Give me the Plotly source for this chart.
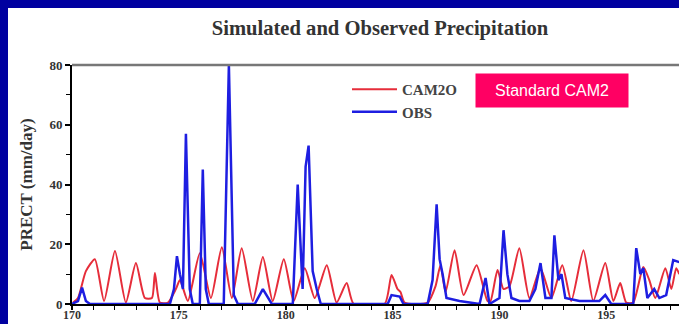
import plotly.graph_objects as go

# ---- data (day of year, mm/day) ----
cam_x = [170.05, 170.28, 170.65, 171.07, 171.50, 172.01, 172.52, 172.99, 173.41, 173.74,
         173.88, 174.11, 174.49, 174.86, 175.05, 175.42, 175.98, 176.50, 177.01, 177.48,
         177.94, 178.46, 178.93, 179.39, 179.91, 180.37, 180.89, 181.36, 181.92, 182.38,
         182.85, 183.18, 184.63, 184.95, 185.23, 185.37, 185.56, 186.64, 187.01, 187.24,
         187.48, 187.90, 188.32, 188.93, 189.44, 189.58, 189.91, 190.19, 190.47, 190.93,
         191.40, 191.92, 192.43, 192.94, 193.36, 193.93, 194.39, 194.95, 195.33, 195.65,
         195.93, 196.26, 196.73, 197.01, 197.29, 197.76, 198.04, 198.27, 198.41]
cam_y = [0.5, 2, 11, 15, 1, 17.7, 0.5, 13.7, 2, 2,
         10.4, 0.5, 0.5, 5, 8, 1, 17, 2, 19, 2,
         18.7, 1, 15.7, 1, 15, 1, 12, 2, 13, 0.5,
         7, 0, 0, 9.7, 5, 4, 0.5, 0.5, 6, 13,
         4, 18, 3, 13, 1, 1, 11.4, 5, 6, 18.7,
         2, 12, 2, 13, 1, 18, 1, 13.7, 1, 7,
         0.5, 0.5, 12.4, 8, 2, 12, 5, 12, 10]

obs_x = [170.00, 170.28, 170.47, 170.65, 170.84, 174.58, 174.77, 174.91, 175.05, 175.19,
         175.33, 175.51, 175.65, 175.98, 176.12, 176.26, 176.40, 177.10, 177.34, 177.57,
         177.76, 178.55, 178.93, 179.16, 179.35, 180.33, 180.56, 180.79, 180.93, 181.07,
         181.26, 181.45, 181.64, 184.77, 184.95, 185.33, 185.51, 186.64, 186.87, 187.06,
         187.20, 187.34, 187.52, 188.13, 189.07, 189.35, 189.53, 190.00, 190.19, 190.37,
         190.56, 190.93, 191.40, 191.68, 191.92, 192.15, 192.43, 192.57, 192.76, 192.90,
         193.08, 193.74, 194.67, 194.95, 195.23, 196.26, 196.40, 196.59, 196.73, 196.92,
         197.24, 197.48, 197.80, 198.13, 198.41]
obs_y = [0, 1, 5.5, 1, 0, 0, 5, 16, 10, 5,
         57, 5, 0, 0, 45, 5, 0, 0, 80, 3,
         0, 0, 5, 2, 0, 0, 40, 5, 46, 53,
         11, 5, 0, 0, 3, 2.5, 0, 0, 8, 33.4,
         15, 10, 2, 1, 0, 8.7, 0, 2, 24.7, 10,
         2, 1, 1, 5, 13.7, 2, 2, 23, 8, 10,
         2, 1, 1, 3, 0, 0, 18.7, 10, 12, 2,
         5, 2, 3, 14.7, 14]

series_names = ["CAM2O", "OBS"]
y_ticks = [0, 20, 40, 60, 80]
x_ticks = [170, 175, 180, 185, 190, 195]

W, H = 679, 324
L, R, T, B = 72, 0, 65, 20
pw, ph = W - L - R, H - T - B

def px(p):
    return (p - L) / pw

def py(p):
    return (H - B - p) / ph

serif = "Liberation Serif, Times New Roman, serif"

fig = go.Figure()
fig.add_trace(go.Scatter(x=cam_x, y=cam_y, mode="lines", name=series_names[0],
                         line=dict(color="rgb(230,45,58)", width=2, shape="spline", smoothing=0.6)))
fig.add_trace(go.Scatter(x=obs_x, y=obs_y, mode="lines", name=series_names[1],
                         line=dict(color="rgb(30,30,225)", width=2.5)))

fig.update_layout(
    width=W, height=H,
    margin=dict(l=L, r=R, t=T, b=B, pad=0, autoexpand=False),
    paper_bgcolor="white", plot_bgcolor="white",
    title=dict(text="<b>Simulated and Observed Precipitation</b>",
               font=dict(family=serif, size=20.6, color="#333"),
               xref="container", yref="container", x=380 / W, xanchor="center",
               y=1 - 28 / H, yanchor="middle"),
    legend=dict(x=px(347), y=py(73), xanchor="left", yanchor="top",
                bgcolor="rgba(0,0,0,0)",
                font=dict(family=serif, size=15, color="#444", weight="bold"),
                itemwidth=45, tracegroupgap=0),
    showlegend=True,
)

fig.update_xaxes(range=[170, 198.4], tickvals=x_ticks, ticktext=[str(v) for v in x_ticks],
                 showgrid=False, zeroline=False, showline=True, linecolor="black", linewidth=2,
                 ticks="outside", ticklen=4, tickwidth=1.5, tickcolor="black",
                 minor=dict(dtick=1, ticks="outside", ticklen=4, tickcolor="black", tickwidth=1.2),
                 tickfont=dict(family=serif, size=12, color="#333", weight="bold"),
                 ticklabelstandoff=-5)
fig.update_yaxes(range=[0, 80], tickvals=y_ticks, ticktext=[str(v) for v in y_ticks],
                 showgrid=False, zeroline=False, showline=True, linecolor="black", linewidth=2,
                 ticks="outside", ticklen=5, tickwidth=1.5, tickcolor="black",
                 minor=dict(dtick=10, ticks="outside", ticklen=4, tickcolor="black", tickwidth=1.2),
                 tickfont=dict(family=serif, size=13, color="#333", weight="bold"),
                 title=dict(text="<b>PRECT (mm/day)</b>", font=dict(family=serif, size=17, color="#333"),
                            standoff=12))

blue = "#0000A0"
# top gray frame line
fig.add_shape(type="line", xref="paper", yref="paper", x0=0, x1=1, y0=1, y1=1,
              line=dict(color="#777", width=2.5))
# blue border strips
fig.add_shape(type="rect", xref="paper", yref="paper", x0=px(-5), x1=px(W + 5), y0=py(8), y1=py(-5),
              fillcolor=blue, line=dict(width=0), layer="above")
fig.add_shape(type="rect", xref="paper", yref="paper", x0=px(-5), x1=px(8), y0=py(H + 5), y1=py(-5),
              fillcolor=blue, line=dict(width=0), layer="above")

fig.add_annotation(text="Standard CAM2", xref="paper", yref="paper", x=px(552), y=py(90.5),
                   xanchor="center", yanchor="middle", showarrow=False,
                   font=dict(family="Liberation Sans, Arial, sans-serif", size=16, color="white"),
                   bgcolor="#FF0063", width=150, height=31, borderpad=1)

fig.write_html("out.html", config={"displayModeBar": False},
               post_script="document.body.style.margin='0';document.body.style.overflow='hidden';")
